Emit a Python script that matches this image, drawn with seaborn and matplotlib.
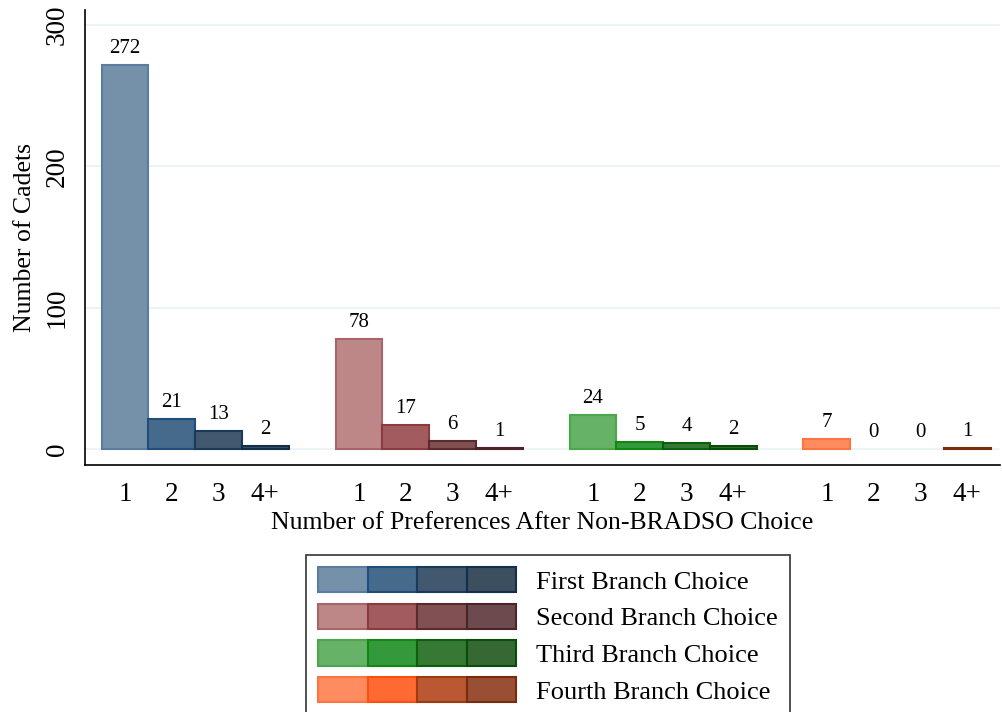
import pandas as pd
import matplotlib
matplotlib.use('Agg')
import matplotlib.pyplot as plt
import seaborn as sns
from matplotlib.patches import Patch
from matplotlib.legend_handler import HandlerTuple

# data
branches = ['First Branch Choice', 'Second Branch Choice', 'Third Branch Choice', 'Fourth Branch Choice']
prefs = ['1', '2', '3', '4+']
first = [272, 21, 13, 2]
second = [78, 17, 6, 1]
third = [24, 5, 4, 2]
fourth = [7, 0, 0, 1]

fills = [['#7591AA', '#466A8C', '#41586F', '#3B4F5F'],
         ['#BD8788', '#A25C60', '#815053', '#6D4A4D'],
         ['#66B266', '#33993A', '#357935', '#356833'],
         ['#FF8C60', '#FF6A33', '#BA5833', '#984F33']]
edges = [['#5A7CA0', '#1F4E7A', '#1A3A5C', '#12304D'],
         ['#A9636A', '#8B3A40', '#5C2A2E', '#4A2426'],
         ['#4CA64C', '#118811', '#0C5F0C', '#074F07'],
         ['#FF7440', '#FF4F0F', '#A13A0F', '#7A2B0A']]

rows = []
for g, vals in enumerate([first, second, third, fourth]):
    for i, v in enumerate(vals):
        rows.append({'pos': g * 5 + i, 'key': f'{g}-{i}', 'count': v, 'pref': prefs[i]})
df = pd.DataFrame(rows)
keys = list(df['key'])
palette = {f'{g}-{i}': fills[g][i] for g in range(4) for i in range(4)}

sns.set_style('white')
plt.rcParams['font.family'] = ['Liberation Serif', 'DejaVu Serif']
plt.rcParams['text.color'] = 'black'
plt.rcParams['axes.labelcolor'] = 'black'
plt.rcParams['xtick.color'] = 'black'
plt.rcParams['ytick.color'] = 'black'

fig = plt.figure(figsize=(10.02, 7.12), dpi=100)
ax = fig.add_axes([85 / 1002, 1 - 465 / 712, 915 / 1002, 455 / 712])

sns.barplot(data=df, x='pos', y='count', hue='key', hue_order=keys, palette=palette,
            native_scale=True, dodge=False, width=1.0, legend=False, saturation=1, ax=ax)

for c, k in zip(ax.containers, keys):
    g, i = map(int, k.split('-'))
    v = df.loc[df['key'] == k, 'count'].iloc[0]
    for p in c.patches:
        p.set_edgecolor(edges[g][i])
        p.set_linewidth(1.5 if v > 0 else 0)
    ax.bar_label(c, padding=5, fontsize=15, color='black')

ax.set_xlim(-0.855, 18.7)
ax.set_ylim(-11.3, 310.6)
ax.set_yticks([0, 100, 200, 300])
ax.set_xticks(df['pos'])
ax.set_xticklabels(df['pref'])
ax.yaxis.grid(True, color='#EAF2F3', lw=1.2)
ax.set_axisbelow(True)
for s in ['top', 'right']:
    ax.spines[s].set_visible(False)
for s in ['left', 'bottom']:
    ax.spines[s].set_color('black')
    ax.spines[s].set_linewidth(1.2)
ax.tick_params(axis='both', direction='out', length=8, width=1.2, color='black', labelsize=19.5)
ax.tick_params(axis='x', pad=4)
ax.tick_params(axis='y', pad=3)
plt.setp(ax.get_yticklabels(), rotation=90, va='center')
ax.set_xlabel('Number of Preferences After Non-BRADSO Choice', fontsize=18.5, labelpad=4)
ax.set_ylabel('Number of Cadets', fontsize=18.5, labelpad=6)

handles = [tuple(Patch(facecolor=fills[g][i], edgecolor=edges[g][i], lw=1.5) for i in range(4))
           for g in range(4)]
leg = fig.legend(handles, branches, loc='upper center', bbox_to_anchor=(548 / 1002, 1 - 555 / 712),
                 handler_map={tuple: HandlerTuple(ndivide=None, pad=0)},
                 handlelength=7.5, handleheight=1.1, fontsize=19, frameon=True, fancybox=False,
                 borderpad=0.45, labelspacing=0.38, handletextpad=0.75, borderaxespad=0)
leg.get_frame().set_edgecolor('black')
leg.get_frame().set_linewidth(1.2)

fig.savefig('out.png', dpi=100)
